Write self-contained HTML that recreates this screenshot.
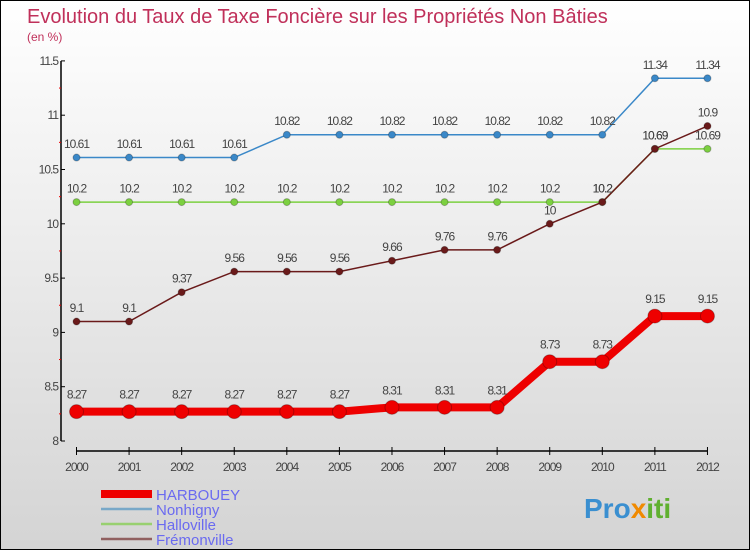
<!DOCTYPE html>
<html><head><meta charset="utf-8"><style>
body{margin:0}
#c{position:relative;width:750px;height:550px;box-sizing:border-box;border:1px solid #000;background:linear-gradient(#fff,#d4d4d4);font-family:"Liberation Sans",sans-serif;overflow:hidden}
svg text{font-family:"Liberation Sans",sans-serif}
</style></head><body>
<div id="c">
<svg id="s" width="750" height="550">
<text x="26" y="22" font-size="20" fill="#c0305a">Evolution du Taux de Taxe Foncière sur les Propriétés Non Bâties</text>
<text x="26" y="40" font-size="12" fill="#c0305a">(en %)</text>
<text x="583" y="517" font-size="28" font-weight="bold" fill="#3a8fd0">Pro<tspan fill="#f08a00">x</tspan><tspan fill="#60b030">iti</tspan></text>
</svg>
</div>
<script>
const years=[2000,2001,2002,2003,2004,2005,2006,2007,2008,2009,2010,2011,2012];
const harbouey=[8.27,8.27,8.27,8.27,8.27,8.27,8.31,8.31,8.31,8.73,8.73,9.15,9.15];
const nonhigny=[10.61,10.61,10.61,10.61,10.82,10.82,10.82,10.82,10.82,10.82,10.82,11.34,11.34];
const halloville=[10.2,10.2,10.2,10.2,10.2,10.2,10.2,10.2,10.2,10.2,10.2,10.69,10.69];
const fremonville=[9.1,9.1,9.37,9.56,9.56,9.56,9.66,9.76,9.76,10,10.2,10.69,10.9];
const yTicks=[8,8.5,9,9.5,10,10.5,11,11.5];
const names=["HARBOUEY","Nonhigny","Halloville","Frémonville"];
const NS="http://www.w3.org/2000/svg";
const s=document.getElementById('s');
const X=i=>75.5+i*52.58;
const Y=v=>440-(v-8)*108.6;
function el(t,a,p){const e=document.createElementNS(NS,t);for(const k in a)e.setAttribute(k,a[k]);(p||s).appendChild(e);return e;}
// y axis
let ax=el('line',{x1:60,y1:60,x2:60,y2:440,stroke:'#000','stroke-width':1.5});


yTicks.forEach((t,i)=>{
 el('line',{x1:60,y1:Y(t),x2:64,y2:Y(t),stroke:'#000'});
 const tx=el('text',{x:57,y:Y(t)+4,'font-size':12,fill:'#444','text-anchor':'end','letter-spacing':'-1'});
 tx.textContent=String(t);
 
 
 if(i<yTicks.length-1)el('line',{x1:58,y1:Y(t+0.25),x2:60,y2:Y(t+0.25),stroke:'#e00'});
});
// x axis
let xa=el('line',{x1:X(0),y1:450,x2:X(12),y2:450,stroke:'#000','stroke-width':1.5});


years.forEach((y,i)=>{
 el('line',{x1:X(i),y1:446,x2:X(i),y2:454,stroke:'#000'});
 const tx=el('text',{x:X(i),y:470,'font-size':12,fill:'#444','text-anchor':'middle','letter-spacing':'-1'});
 tx.textContent=y;
 
 
});
function series(d,col,w,r,name,labels){
 const g=el('g',{});
 
 
 const p=el('polyline',{points:d.map((v,i)=>X(i)+','+Y(v)).join(' '),fill:'none',stroke:col,'stroke-width':w},g);
 
 
 d.forEach((v,i)=>{
  const c=el('circle',{cx:X(i),cy:Y(v),r:r,fill:col,stroke:'rgba(0,0,0,0.25)'},g);
  
  
  if(labels){
   const t=el('text',{x:X(i),y:Y(v)-(r+6),'font-size':12,fill:'#444','text-anchor':'middle','letter-spacing':'-1'},g);
   t.textContent=String(v);
   
   
  }
 });
}
series(halloville,'#7cd040',1.5,3.5,'halloville',true);
series(fremonville,'#6a1a1a',1.5,3.5,'fremonville',true);
series(nonhigny,'#3a88c8',1.5,3.5,'nonhigny',true);
series(harbouey,'#ee0000',8,7,'harbouey',true);
// legend
const lc=['#ee0000','#78a8c8','#98d070','#906060'],lw=[8,2.5,2.5,2.5];
names.forEach((n,i)=>{
 const y=493+i*15;
 const l=el('line',{x1:100,y1:y,x2:151,y2:y,stroke:lc[i],'stroke-width':lw[i]});
 
 
 const t=el('text',{x:155,y:y+6,'font-size':15,fill:'#6a6af0'});
 t.textContent=n;
 
 
});
</script>
</body></html>
